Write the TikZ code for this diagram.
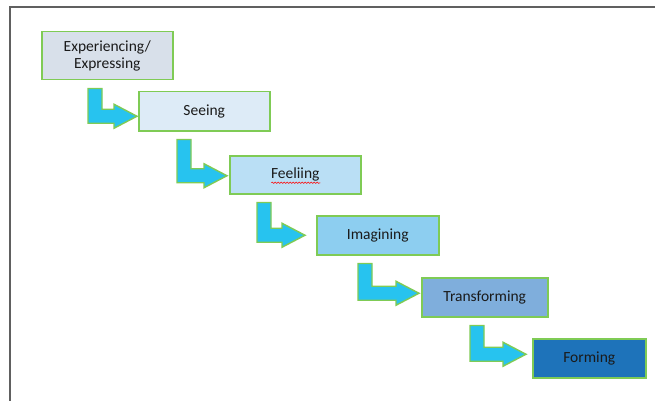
\documentclass[tikz,border=0pt]{standalone}
\usepackage{fontspec}
\setmainfont{Carlito}
\usetikzlibrary{calc,decorations.pathmorphing}

\definecolor{boxline}{HTML}{7FCB55}
\definecolor{arrowfill}{HTML}{27C3EF}
\definecolor{fillA}{HTML}{D8E0EA}
\definecolor{fillB}{HTML}{DDEBF7}
\definecolor{fillC}{HTML}{BADFF5}
\definecolor{fillD}{HTML}{8DCEF0}
\definecolor{fillE}{HTML}{7FAEDC}
\definecolor{fillF}{HTML}{1E73BA}
\definecolor{framegray}{HTML}{606060}
\definecolor{textdark}{HTML}{1A1A1A}

\tikzset{
  stage/.style={draw=boxline, line width=1.5pt, rectangle, anchor=north west,
    inner sep=0pt, align=center, text=textdark,
    font=\fontsize{15.5}{17}\selectfont},
  bentarrow/.style={draw=boxline, line width=1.4pt, fill=arrowfill, line join=miter},
}

% L-shaped block arrow: #1 source, #2 target, #3 left edge of the drop (px),
% #4 shaft centre below the target's centre line (px), #5 gap before the target
\newcommand\bentarrow[5]{%
  \draw[bentarrow] let \p1=(#1.south), \p2=(#2.west) in
    (#3pt,\y1-8pt) -- ++(14pt,0pt)
    |- (\x2-#5pt-23pt,\y2-#4pt+7pt) -- ++(0pt,5pt)
    -- (\x2-#5pt,\y2-#4pt)
    -- (\x2-#5pt-23pt,\y2-#4pt-12pt) -- ++(0pt,5pt)
    -- (#3pt,\y2-#4pt-7pt) -- cycle;
}

\begin{document}
\begin{tikzpicture}[x=1pt,y=-1pt]
  \useasboundingbox (0,0) rectangle (655,401);
  % page frame
  \draw[framegray, line width=1.6pt] (10,401) -- (10,7) -- (655,7);

  % stages
  \node[stage, fill=fillA, minimum width=131pt, minimum height=48pt] (exp) at (41,31) {Experiencing/\\Expressing};
  \node[stage, fill=fillB, minimum width=131pt, minimum height=39pt] (see) at (138,91) {Seeing};
  \node[stage, fill=fillC, minimum width=131pt, minimum height=38pt] (feel) at (229,155) {Feeliing};
  \node[stage, fill=fillD, minimum width=122pt, minimum height=39pt] (imag) at (316,215) {Imagining};
  \node[stage, fill=fillE, minimum width=126pt, minimum height=39pt] (trans) at (421,277) {Transforming};
  \node[stage, fill=fillF, minimum width=113pt, minimum height=39pt] (form) at (532,338) {Forming};

  % spell-check squiggle under the misspelt word
  \draw[red, line width=0.5pt, decorate, decoration={snake, amplitude=0.7pt, segment length=3pt}]
    ($(feel.center)+(-24,8)$) -- ($(feel.center)+(25,8)$);

  % connecting block arrows
  \bentarrow{exp}{see}{88}{5}{1}
  \bentarrow{see}{feel}{177}{1}{2}
  \bentarrow{feel}{imag}{257}{0}{11}
  \bentarrow{imag}{trans}{358}{-4}{2}
  \bentarrow{trans}{form}{470}{-4}{6}
\end{tikzpicture}
\end{document}
